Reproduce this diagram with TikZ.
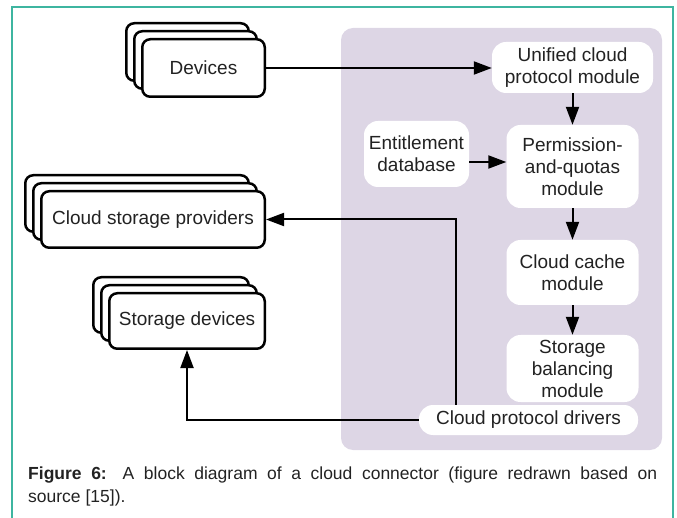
\documentclass[tikz,border=0pt]{standalone}
\usepackage{fontspec}
\setmainfont{Liberation Sans}
\usetikzlibrary{arrows.meta}
\usetikzlibrary{positioning}
\definecolor{frameteal}{RGB}{62,181,160}
\definecolor{panellilac}{RGB}{221,214,229}
\definecolor{inkgrey}{RGB}{34,34,34}
\tikzset{
  stackbox/.style={draw, line width=2.5pt, fill=white, rounded corners=8pt, inner sep=0pt,
    text=inkgrey, font=\fontsize{19}{22}\selectfont},
  modbox/.style={fill=white, rounded corners=14pt, inner sep=0pt, align=center,
    text=inkgrey, font=\fontsize{19}{22}\selectfont},
  conn/.style={line width=2pt, -{Triangle[length=18pt,width=13pt]}}
}

\begin{document}
\begin{tikzpicture}[x=1pt,y=-1pt]
  \useasboundingbox (0,0) rectangle (677,518);
  % outer frame, open at the bottom
  \draw[frameteal, line width=1.5pt] (12,520) -- (12,7) -- (673,7) -- (673,520);
  % connector panel
  \node[fill=panellilac, rounded corners=12pt, minimum width=321pt, minimum height=422pt, inner sep=0pt] (panel) at (501.5,239) {};

  % stacked outside boxes
  \node[stackbox, minimum width=122.5pt, minimum height=57.5pt] (dev3) at (187.5,52) {};
  \node[stackbox, minimum width=122.5pt, minimum height=57.5pt] (dev2) at (195.5,60) {};
  \node[stackbox, minimum width=122.5pt, minimum height=57.5pt] (dev) at (203.5,68) {Devices};

  \node[stackbox, minimum width=223.5pt, minimum height=56.5pt] (csp3) at (137,203.5) {};
  \node[stackbox, minimum width=223.5pt, minimum height=56.5pt] (csp2) at (145,211.5) {};
  \node[stackbox, minimum width=223.5pt, minimum height=56.5pt] (csp) at (153,219.5) {Cloud storage providers};

  \node[stackbox, minimum width=155.5pt, minimum height=55.5pt] (sdev3) at (171,305) {};
  \node[stackbox, minimum width=155.5pt, minimum height=55.5pt] (sdev2) at (179,313) {};
  \node[stackbox, minimum width=155.5pt, minimum height=55.5pt] (sdev) at (187,321) {Storage devices};

  % modules
  \node[modbox, minimum width=161pt, minimum height=51pt] (ucp) at (572.5,67.5) {Unified cloud\\protocol module};
  \node[modbox, minimum width=132pt, minimum height=83pt] (pq) at (572.5,166.5) {Permission-\\and-quotas\\module};
  \node[modbox, minimum width=105pt, minimum height=66pt] (ent) at (416.5,154) {Entitlement\\database};
  \node[modbox, minimum width=132pt, minimum height=65pt] (cache) at (572.5,272.5) {Cloud cache\\module};
  \node[modbox, minimum width=132pt, minimum height=67pt] (bal) at (572.5,368.5) {Storage\\balancing\\module};
  \node[modbox, minimum width=219pt, minimum height=30pt] (drv) at (528.5,420) {Cloud protocol drivers};

  \coordinate (up) at (456,219.5);

  \draw[conn] (dev.east) -- (dev.east -| ucp.west);
  \draw[conn] (ucp.south) -- (pq.north);
  \draw[conn] ([yshift=-8pt]ent.east) -- ([yshift=-8pt]ent.east -| pq.west);
  \draw[conn] (pq.south) -- (cache.north);
  \draw[conn] (cache.south) -- (bal.north);
  \draw[conn] (drv.north -| up) -- (up) -- (csp.east);
  \draw[conn] (drv.west) -| (sdev.south);

  % caption
  \node[anchor=north west, inner sep=0pt, text width=629pt, align=justify, text=inkgrey,
    font=\fontsize{17.5}{22.5}\selectfont] (cap) at (28,467)
    {\textbf{Figure 6:} A block diagram of a cloud connector (figure redrawn based on\linebreak source [15]).};
\end{tikzpicture}
\end{document}
